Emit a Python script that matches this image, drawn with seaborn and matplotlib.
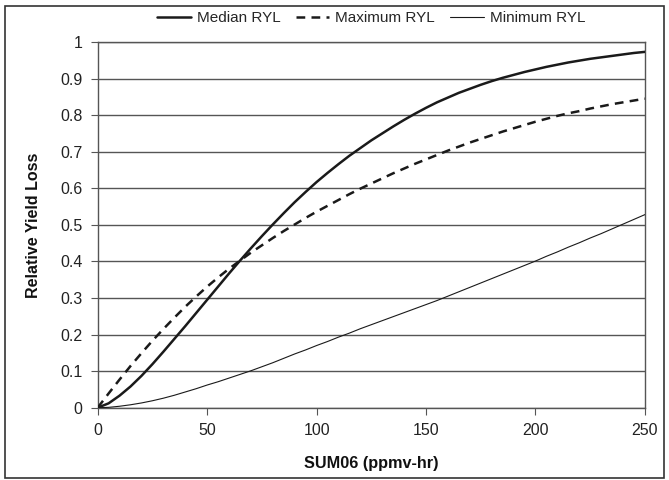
import pandas as pd
import matplotlib.pyplot as plt
import seaborn as sns
from matplotlib.patches import Rectangle

# Valores (SUM06 cada 5 ppmv-hr)
sum06 = list(range(0, 255, 5))
ryl_median = [0, 0.012, 0.033, 0.058, 0.087, 0.119, 0.153, 0.188, 0.223, 0.259,
              0.295, 0.331, 0.367, 0.402, 0.436, 0.469, 0.501, 0.532, 0.562, 0.590,
              0.617, 0.642, 0.666, 0.689, 0.710, 0.731, 0.750, 0.769, 0.787, 0.804,
              0.820, 0.835, 0.848, 0.861, 0.872, 0.883, 0.893, 0.902, 0.910, 0.918,
              0.925, 0.932, 0.938, 0.944, 0.949, 0.954, 0.958, 0.962, 0.966, 0.970,
              0.973]
ryl_max = [0, 0.039, 0.077, 0.114, 0.149, 0.183, 0.215, 0.246, 0.276, 0.304,
           0.331, 0.356, 0.380, 0.402, 0.424, 0.444, 0.464, 0.483, 0.501, 0.519,
           0.536, 0.552, 0.568, 0.584, 0.599, 0.613, 0.627, 0.641, 0.654, 0.667,
           0.679, 0.691, 0.703, 0.714, 0.725, 0.735, 0.745, 0.755, 0.764, 0.773,
           0.782, 0.790, 0.798, 0.805, 0.811, 0.818, 0.824, 0.830, 0.835, 0.840,
           0.845]
ryl_min = [0, 0.001, 0.004, 0.008, 0.013, 0.019, 0.026, 0.034, 0.043, 0.052,
           0.062, 0.071, 0.081, 0.091, 0.101, 0.112, 0.123, 0.135, 0.147, 0.158,
           0.170, 0.181, 0.193, 0.204, 0.216, 0.227, 0.238, 0.249, 0.260, 0.271,
           0.282, 0.293, 0.305, 0.317, 0.329, 0.341, 0.353, 0.365, 0.377, 0.389,
           0.401, 0.414, 0.426, 0.439, 0.451, 0.464, 0.476, 0.489, 0.502, 0.515,
           0.528]
yticks = [0, 0.1, 0.2, 0.3, 0.4, 0.5, 0.6, 0.7, 0.8, 0.9, 1]
ytick_labels = ['0', '0.1', '0.2', '0.3', '0.4', '0.5', '0.6', '0.7', '0.8', '0.9', '1']
xticks = [0, 50, 100, 150, 200, 250]

df = pd.DataFrame({'SUM06': sum06, 'Median RYL': ryl_median,
                   'Maximum RYL': ryl_max, 'Minimum RYL': ryl_min})

sns.set_style("white")
plt.rcParams['font.family'] = ['Liberation Sans', 'DejaVu Sans']

fig = plt.figure(figsize=(6.69, 4.8), dpi=100)
ax = fig.add_axes([0.146, 0.1506, 0.818, 0.7619])

# gridlines horizontales
for y in yticks:
    ax.axhline(y, color='#555555', linewidth=1.0, zorder=1)

sns.lineplot(data=df, x='SUM06', y='Median RYL', ax=ax, color='#1a1a1a',
             linewidth=1.8, label='Median RYL', zorder=3)
sns.lineplot(data=df, x='SUM06', y='Maximum RYL', ax=ax, color='#1a1a1a',
             linewidth=1.8, linestyle=(0, (3.5, 2.5)), label='Maximum RYL', zorder=3)
sns.lineplot(data=df, x='SUM06', y='Minimum RYL', ax=ax, color='#1a1a1a',
             linewidth=0.8, label='Minimum RYL', zorder=3)

ax.set_xlim(0, 250)
ax.set_ylim(0, 1)
ax.set_xticks(xticks)
ax.set_yticks(yticks)
ax.set_yticklabels(ytick_labels)
ax.tick_params(axis='both', direction='out', length=5, width=0.8, color='#555555',
               labelsize=11.5, labelcolor='#222222', pad=6, left=True, bottom=True)

for s in ax.spines.values():
    s.set_color('#555555')
    s.set_linewidth(1.0)

ax.set_xlabel('SUM06 (ppmv-hr)', fontsize=11.7, fontweight='bold', color='#111111', labelpad=13)
ax.set_ylabel('Relative Yield Loss', fontsize=11.5, fontweight='bold', color='#111111', labelpad=14)

ax.legend(loc='center', bbox_to_anchor=(0.555, 0.9625), bbox_transform=fig.transFigure,
          ncol=3, frameon=False, fontsize=11, handlelength=2.2, columnspacing=1.0,
          handletextpad=0.4)

# marco de la figura
fig.patches.append(Rectangle((5 / 669, 2 / 480), 659 / 669, 472 / 480,
                             transform=fig.transFigure, fill=False,
                             edgecolor='#333333', linewidth=1.2))

fig.savefig("out.png", dpi=100)
